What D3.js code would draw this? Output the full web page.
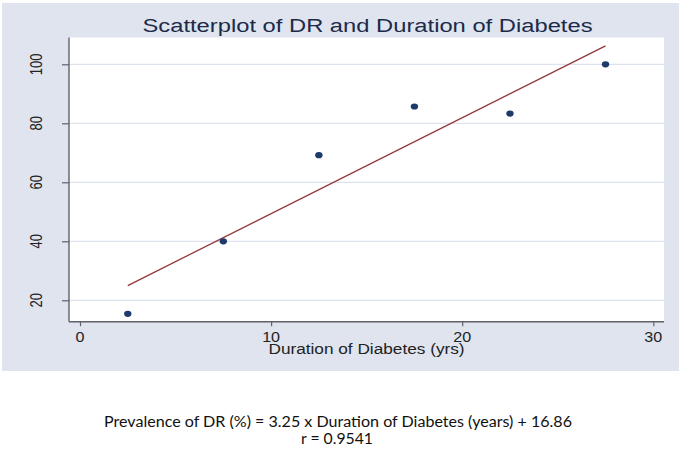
<!DOCTYPE html>
<html>
<head>
<meta charset="utf-8">
<script src="https://cdn.jsdelivr.net/npm/d3@7"></script>
<style>
  html, body { margin: 0; padding: 0; background: #ffffff; }
  svg { display: block; }
</style>
</head>
<body>
<svg id="chart" width="685" height="450"></svg>
<script>
// ---- data ----
const durationYears = [2.5, 7.5, 12.5, 17.5, 22.5, 27.5];
const prevalenceDR = [15.4, 40.0, 69.2, 85.7, 83.3, 100.0];
const fitX = [2.5, 27.5];
const fitY = [24.985, 106.235];
const xTicks = [0, 10, 20, 30];
const yTicks = [20, 40, 60, 80, 100];
const titleText = "Scatterplot of DR and Duration of Diabetes";
const xTitle = "Duration of Diabetes (yrs)";
const noteLines = ["Prevalence of DR (%) = 3.25 x Duration of Diabetes (years) + 16.86", "r = 0.9541"];

// ---- layout ----
const svg = d3.select("#chart");
const plot = { left: 69, right: 664, top: 37.5, bottom: 321.7 };
const x = d3.scaleLinear().domain([0, 30]).range([80, 653.3]);
const y = d3.scaleLinear().domain([20, 100]).range([300.3, 64.3]);
const axisColor = "#5f6368";
const textColor = "#1c2a44";

// outer graph region
svg.append("rect").attr("x", 2).attr("y", 3).attr("width", 677).attr("height", 368)
  .attr("fill", "#dfe4ee");
// plot region
svg.append("rect").attr("x", plot.left).attr("y", plot.top)
  .attr("width", plot.right - plot.left).attr("height", plot.bottom - plot.top)
  .attr("fill", "#ffffff");

// gridlines
svg.append("g").selectAll("line").data(yTicks).join("line")
  .attr("x1", plot.left).attr("x2", plot.right)
  .attr("y1", d => y(d)).attr("y2", d => y(d))
  .attr("stroke", "#dde3ee").attr("stroke-width", 1.2);

// stretched text helper
function stext(g, str, tx, ty, size, sx, opts = {}) {
  const t = g.append("text")
    .attr("transform", `translate(${tx},${ty}) scale(${sx},1)` + (opts.rotate ? ` rotate(${opts.rotate})` : ""))
    .attr("text-anchor", opts.anchor || "middle")
    .attr("font-family", opts.family || "'Liberation Sans', Arial, sans-serif")
    .attr("font-size", size)
    .attr("fill", opts.fill || textColor)
    .text(str);
  return t;
}

// y axis
const yAxis = d3.axisLeft(y).tickValues(yTicks).tickSize(7).tickFormat("");
const gy = svg.append("g").attr("transform", `translate(${plot.left},0)`).call(yAxis);
gy.select(".domain").remove();
gy.selectAll(".tick line").attr("stroke", axisColor).attr("stroke-width", 1.2);
svg.append("line").attr("x1", plot.left).attr("x2", plot.left)
  .attr("y1", plot.top).attr("y2", plot.bottom)
  .attr("stroke", axisColor).attr("stroke-width", 1.4);
const ylab = svg.append("g");
yTicks.forEach(v => stext(ylab, String(v), 42, y(v), 13, 1.3, { rotate: -90, fill: "#222" }));

// x axis
const xAxis = d3.axisBottom(x).tickValues(xTicks).tickSize(4.5).tickFormat("");
const gx = svg.append("g").attr("transform", `translate(0,${plot.bottom})`).call(xAxis);
gx.select(".domain").remove();
gx.selectAll(".tick line").attr("stroke", axisColor).attr("stroke-width", 1.2);
svg.append("line").attr("x1", plot.left).attr("x2", plot.right)
  .attr("y1", plot.bottom).attr("y2", plot.bottom)
  .attr("stroke", axisColor).attr("stroke-width", 1.4);
const xlab = svg.append("g");
xTicks.forEach(v => stext(xlab, String(v), x(v), 342, 14, 1.15, { fill: "#222" }));
stext(svg, xTitle, (plot.left + plot.right) / 2, 354, 14, 1.23, { fill: "#222" });

// title
stext(svg, titleText, (plot.left + plot.right) / 2 + 1, 32.3, 18, 1.32, { fill: "#1c2a4a" });

// fitted line
svg.append("path")
  .datum(fitX.map((d, i) => [d, fitY[i]]))
  .attr("d", d3.line().x(d => x(d[0])).y(d => y(d[1])))
  .attr("fill", "none").attr("stroke", "#94363c").attr("stroke-width", 1.3);

// points
svg.append("g").selectAll("ellipse").data(durationYears).join("ellipse")
  .attr("cx", d => x(d)).attr("cy", (d, i) => y(prevalenceDR[i]))
  .attr("rx", 3.7).attr("ry", 3.1)
  .attr("fill", "#1d3a6b");

// bottom note
const note = svg.append("g");
note.append("text").attr("x", 338).attr("y", 427.3)
  .attr("text-anchor", "middle").attr("font-family", "Lato, 'Open Sans', sans-serif")
  .attr("font-size", 15.5).attr("fill", "#111")
  .attr("textLength", 468).attr("lengthAdjust", "spacingAndGlyphs")
  .text(noteLines[0]);
note.append("text").attr("x", 337).attr("y", 444)
  .attr("text-anchor", "middle").attr("font-family", "Lato, 'Open Sans', sans-serif")
  .attr("font-size", 15.5).attr("fill", "#111")
  .attr("textLength", 72).attr("lengthAdjust", "spacingAndGlyphs")
  .text(noteLines[1]);
</script>
</body>
</html>
